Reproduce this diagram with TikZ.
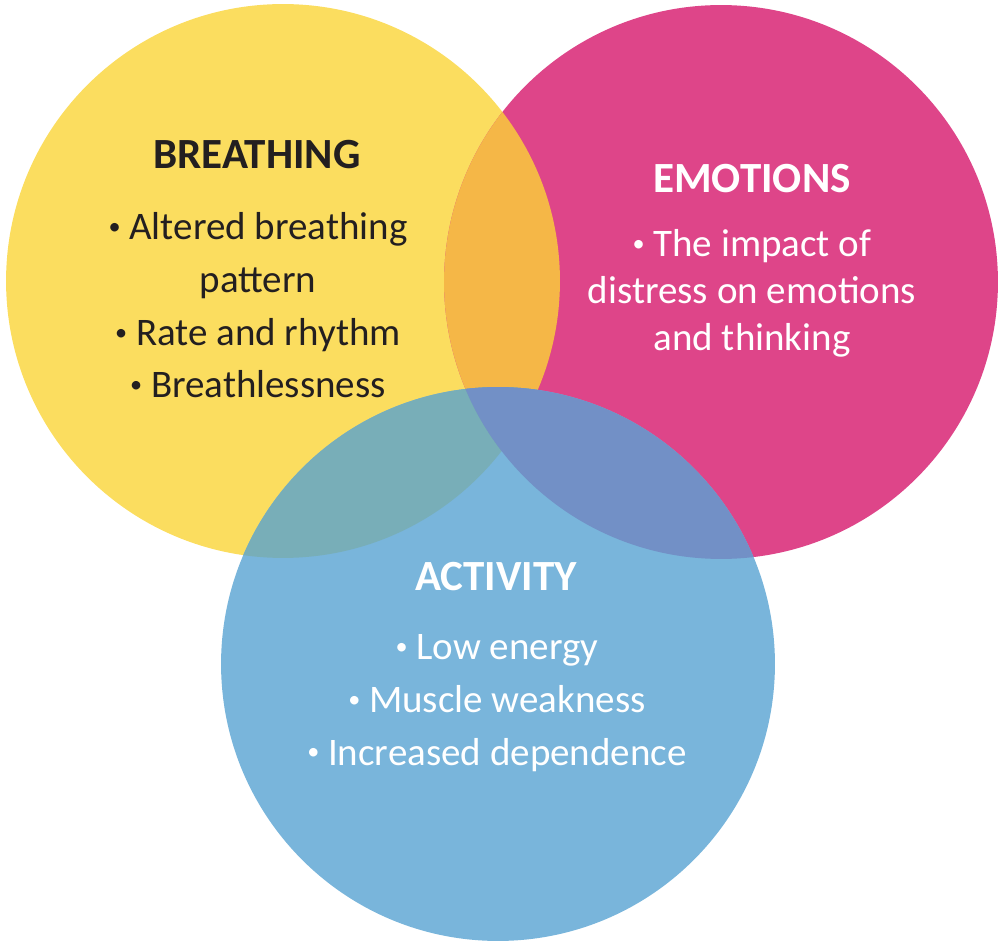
\documentclass[tikz,border=0pt]{standalone}
\usepackage{fontspec}
\setmainfont{Carlito}
\usetikzlibrary{positioning}
\definecolor{vennBreath}{HTML}{FBDD5F}
\definecolor{vennEmot}{HTML}{DE4589}
\definecolor{vennActiv}{HTML}{79B5DB}
\definecolor{vennBE}{HTML}{F5B747}
\definecolor{vennBA}{HTML}{78AEB8}
\definecolor{vennEA}{HTML}{7290C6}
\definecolor{vennAll}{HTML}{73A3B4}
\definecolor{inkDark}{HTML}{231F20}
% smaller bullet, kept on the x-height middle
\newcommand{\dotitem}{\raisebox{0.13em}{\scalebox{0.62}{•}}\ }

\begin{document}
\begin{tikzpicture}[
    x=0.02cm, y=-0.02cm,
    heading/.style={font=\fontsize{24.5}{29}\selectfont\bfseries, inner sep=0pt, anchor=base},
    items/.style={font=\fontsize{22.2}{30}\selectfont, align=center, inner sep=0pt, anchor=base},
    tightitems/.style={items, font=\fontsize{22.2}{27}\selectfont}
  ]
  \useasboundingbox (0,0) rectangle (1004,942);
  \def\rad{5.54cm}

  %---------------- Circle centres ----------------%
  \coordinate (breath) at (283,281);
  \coordinate (emot) at (721,282);
  \coordinate (activ) at (498,664);

  %---------------- Plain discs ----------------%
  \fill[vennBreath] (breath) circle (\rad);
  \fill[vennEmot] (emot) circle (\rad);
  \fill[vennActiv] (activ) circle (\rad);

  %---------------- Overlaps ----------------%
  \begin{scope}
    \clip (breath) circle (\rad);
    \fill[vennBE] (emot) circle (\rad);
    \fill[vennBA] (activ) circle (\rad);
    \clip (emot) circle (\rad);
    \fill[vennAll] (activ) circle (\rad);
  \end{scope}
  \begin{scope}
    \clip (emot) circle (\rad);
    \fill[vennEA] (activ) circle (\rad);
  \end{scope}

  %---------------- Breathing ----------------%
  \node[heading, text=inkDark] (breathT) at (257,169) {BREATHING};
  \node[items, text=inkDark] (breathL) at (258,398)
    {\dotitem Altered breathing\\pattern\\\dotitem Rate and rhythm\\\dotitem Breathlessness};

  %---------------- Emotions ----------------%
  \node[heading, text=white] (emotT) at (752,193) {EMOTIONS};
  \node[tightitems, text=white] (emotL) at (752,351)
    {\dotitem The impact of\\distress on emotions\\and thinking};

  %---------------- Activity ----------------%
  \node[heading, text=white] (activT) at (496,590) {ACTIVITY};
  \node[items, text=white] (activL) at (497,765)
    {\dotitem Low energy\\\dotitem Muscle weakness\\\dotitem Increased dependence};

\end{tikzpicture}
\end{document}
